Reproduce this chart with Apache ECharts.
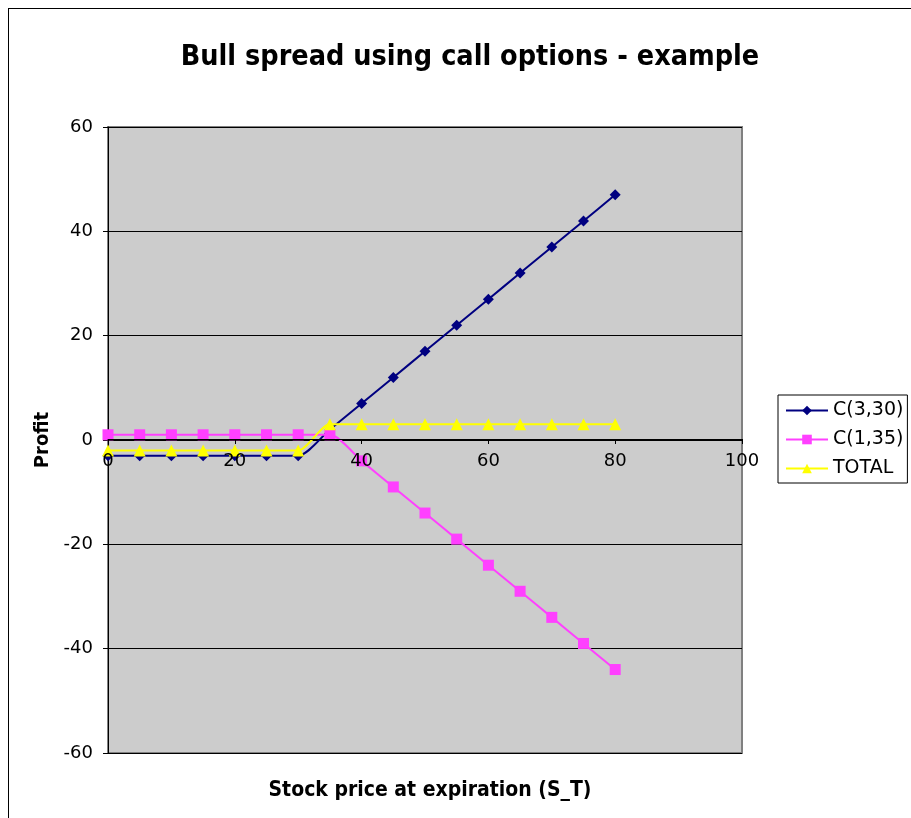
<!DOCTYPE html>
<html>
<head>
<meta charset="utf-8" />
<title>Bull spread</title>
<script src="https://cdn.jsdelivr.net/npm/echarts@6/dist/echarts.min.js"></script>
<style>
  html, body { margin: 0; padding: 0; background: #fff; }
  #frame { position: absolute; left: 8px; top: 8px; width: 920px; height: 830px; border: 1px solid #000; box-sizing: border-box; }
  #chart { position: absolute; left: 0; top: 0; width: 911px; height: 818px; }
</style>
</head>
<body>
<div id="frame"></div>
<div id="chart"></div>
<script>
// stock price at expiration
var prices = [0, 5, 10, 15, 20, 25, 30, 35, 40, 45, 50, 55, 60, 65, 70, 75, 80];
// profit of each position
var longCall = [-3, -3, -3, -3, -3, -3, -3, 2, 7, 12, 17, 22, 27, 32, 37, 42, 47];
var shortCall = [1, 1, 1, 1, 1, 1, 1, 1, -4, -9, -14, -19, -24, -29, -34, -39, -44];
var total = [-2, -2, -2, -2, -2, -2, -2, 3, 3, 3, 3, 3, 3, 3, 3, 3, 3];
var seriesNames = ['C(3,30)', 'C(1,35)', 'TOTAL'];

function pairs(ys) {
  var out = [];
  for (var i = 0; i < prices.length; i++) out.push([prices[i], ys[i]]);
  return out;
}

var myChart = echarts.init(document.getElementById('chart'));
var font = 'DejaVu Sans';
var condensed = 'DejaVu Sans Condensed';
var option = {
  animation: false,
  title: [{
    text: 'Bull spread using call options - example',
    left: 465, textAlign: 'center',
    top: 38,
    textStyle: { fontFamily: condensed, fontSize: 28.5, fontWeight: 'bold', color: '#000' }
  }, {
    text: 'Stock price at expiration (S_T)',
    left: 425, textAlign: 'center',
    top: 775,
    textStyle: { fontFamily: condensed, fontSize: 21, fontWeight: 'bold', color: '#000' }
  }],
  legend: {
    orient: 'vertical',
    left: 778,
    top: 395,
    padding: [6, 4, 5, 7],
    itemGap: 10,
    itemWidth: 42,
    itemHeight: 12,
    borderColor: '#000',
    borderWidth: 1,
    data: seriesNames,
    textStyle: { fontFamily: font, fontSize: 19, color: '#000' }
  },
  grid: {
    left: 108, top: 127, width: 634, height: 626,
    outerBoundsMode: 'none',
    containLabel: false,
    show: true,
    backgroundColor: '#cccccc',
    borderColor: '#808080',
    borderWidth: 2
  },
  xAxis: {
    type: 'value',
    min: 0, max: 100, interval: 20,
    position: 'bottom',
    offset: -314,
    z: 10,
    axisLine: { onZero: false, lineStyle: { color: '#000', width: 1 } },
    axisTick: { show: true, inside: false, length: 5, lineStyle: { color: '#000' } },
    axisLabel: { fontFamily: font, fontSize: 18, color: '#000', margin: 13 },
    splitLine: { show: false }
  },
  yAxis: {
    type: 'value',
    min: -60, max: 60, interval: 20,
    name: 'Profit',
    nameLocation: 'middle',
    nameGap: 49,
    nameTextStyle: { fontFamily: condensed, fontSize: 20, fontWeight: 'bold', color: '#000' },
    axisLine: { show: true, onZero: false, lineStyle: { color: '#000' } },
    axisTick: { show: true, length: 5, lineStyle: { color: '#000' } },
    axisLabel: { fontFamily: font, fontSize: 18, color: '#000', margin: 15 },
    splitLine: { show: true, lineStyle: { color: '#000', width: 1 } }
  },
  series: [
    {
      name: seriesNames[0], type: 'line', data: pairs(longCall),
      smooth: 0.25, symbol: 'diamond', symbolSize: 11,
      lineStyle: { color: '#000080', width: 2 },
      itemStyle: { color: '#000080' }, z: 3
    },
    {
      name: seriesNames[1], type: 'line', data: pairs(shortCall),
      smooth: 0.25, symbol: 'rect', symbolSize: 11,
      lineStyle: { color: '#ff40ff', width: 2 },
      itemStyle: { color: '#ff40ff' }, z: 4
    },
    {
      name: seriesNames[2], type: 'line', data: pairs(total),
      smooth: 0.25, symbol: 'triangle', symbolSize: 12,
      lineStyle: { color: '#ffff00', width: 2 },
      itemStyle: { color: '#ffff00' }, z: 5
    }
  ]
};
myChart.setOption(option);
</script>
</body>
</html>
